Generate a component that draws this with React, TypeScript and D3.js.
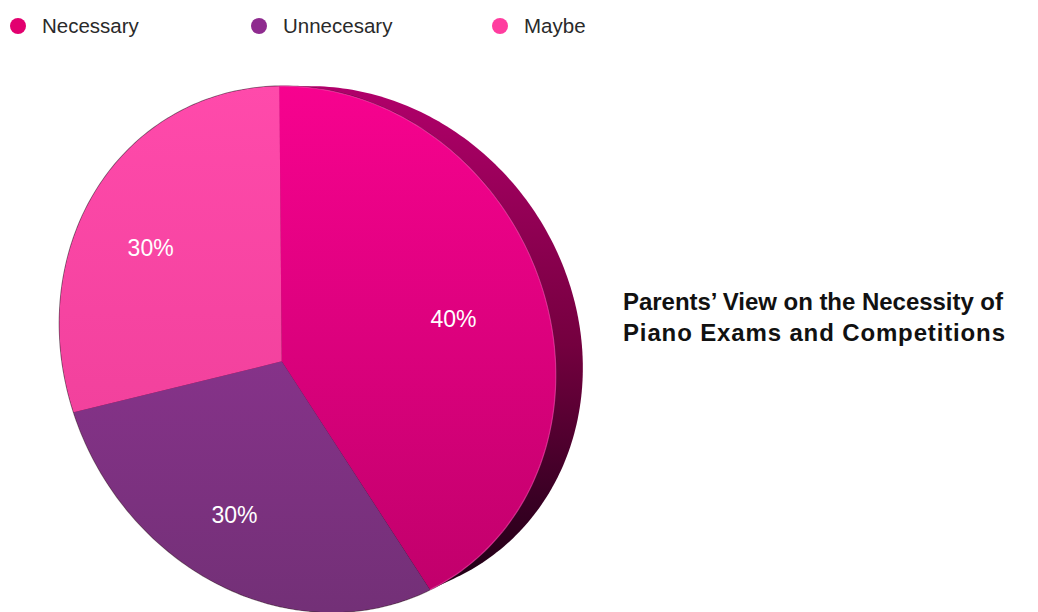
import React from "react";
import * as d3 from "d3";

const categories = ["Necessary", "Unnecesary", "Maybe"];
const values = [40, 30, 30];
const labels = ["40%", "30%", "30%"];
const titleLines = ["Parents’ View on the Necessity of", "Piano Exams and Competitions"];

const legendColors = ["#e2006f", "#8f2b8f", "#ff3d9f"];
const topColors = ["#f7028f", "#9a359d", "#ff4aab"];
const bottomColors = ["#bf006a", "#733077", "#ea3c94"];

const W = 1038;
const H = 612;

// projection calibration: unit-disk points -> screen (perspective tilted disc)
const deg = Math.PI / 180;
const calibUV: [number, number][] = [
  [0, 0],
  [0, -1],
  [Math.sin(144 * deg), -Math.cos(144 * deg)],
  [Math.sin(252 * deg), -Math.cos(252 * deg)],
];
const calibXY: number[] = [280.5, 361.5, 280, 86, 431.5, 591.5, 72, 413];
const extentTarget = { left: 61, right: 555, top: 86, bottom: 610 };

function solve(A: number[][], b: number[]): number[] {
  const n = b.length;
  const M = A.map((r, i) => [...r, b[i]]);
  for (let c = 0; c < n; c++) {
    let p = c;
    for (let r = c + 1; r < n; r++) if (Math.abs(M[r][c]) > Math.abs(M[p][c])) p = r;
    [M[c], M[p]] = [M[p], M[c]];
    for (let r = 0; r < n; r++) {
      if (r === c) continue;
      const f = M[r][c] / M[c][c];
      for (let k = c; k <= n; k++) M[r][k] -= f * M[c][k];
    }
  }
  return M.map((r, i) => r[n] / r[i]);
}

function homography(xy: number[]): number[] {
  const A: number[][] = [];
  const b: number[] = [];
  calibUV.forEach(([u, v], i) => {
    const x = xy[2 * i];
    const y = xy[2 * i + 1];
    A.push([u, v, 1, 0, 0, 0, -u * x, -v * x]);
    b.push(x);
    A.push([0, 0, 0, u, v, 1, -u * y, -v * y]);
    b.push(y);
  });
  return solve(A, b);
}

function applyH(h: number[], r: number, theta: number): [number, number] {
  const u = r * Math.sin(theta);
  const v = -r * Math.cos(theta);
  const w = h[6] * u + h[7] * v + 1;
  return [(h[0] * u + h[1] * v + h[2]) / w, (h[3] * u + h[4] * v + h[5]) / w];
}

function cost(xy: number[]): number {
  const h = homography(xy);
  let c = 0;
  for (let i = 0; i < 8; i++) c += (xy[i] - calibXY[i]) ** 2;
  let l = Infinity, rr = -Infinity, t = Infinity, bt = -Infinity;
  for (let i = 0; i < 180; i++) {
    const [x, y] = applyH(h, 1, i * 2 * deg);
    if (!isFinite(x) || !isFinite(y)) return 1e12;
    l = Math.min(l, x); rr = Math.max(rr, x); t = Math.min(t, y); bt = Math.max(bt, y);
  }
  c += (l - extentTarget.left) ** 2 + (rr - extentTarget.right) ** 2 + (t - extentTarget.top) ** 2 + (bt - extentTarget.bottom) ** 2;
  return c;
}

function nelderMead(f: (x: number[]) => number, x0: number[], step: number, iters: number): number[] {
  const n = x0.length;
  let simplex = [x0.slice()];
  for (let i = 0; i < n; i++) {
    const p = x0.slice();
    p[i] += step;
    simplex.push(p);
  }
  let vals = simplex.map(f);
  for (let it = 0; it < iters; it++) {
    const idx = d3.range(n + 1).sort((a, b) => vals[a] - vals[b]);
    simplex = idx.map((i) => simplex[i]);
    vals = idx.map((i) => vals[i]);
    const cen = d3.range(n).map((j) => d3.mean(simplex.slice(0, n), (p) => p[j])!);
    const worst = simplex[n];
    const refl = cen.map((c, j) => c + (c - worst[j]));
    const fr = f(refl);
    if (fr < vals[0]) {
      const exp = cen.map((c, j) => c + 2 * (c - worst[j]));
      const fe = f(exp);
      if (fe < fr) { simplex[n] = exp; vals[n] = fe; } else { simplex[n] = refl; vals[n] = fr; }
    } else if (fr < vals[n - 1]) {
      simplex[n] = refl; vals[n] = fr;
    } else {
      const con = cen.map((c, j) => c + 0.5 * (worst[j] - c));
      const fc = f(con);
      if (fc < vals[n]) { simplex[n] = con; vals[n] = fc; } else {
        for (let i = 1; i <= n; i++) {
          simplex[i] = simplex[i].map((v, j) => simplex[0][j] + 0.5 * (v - simplex[0][j]));
          vals[i] = f(simplex[i]);
        }
      }
    }
  }
  const best = d3.minIndex(vals);
  return simplex[best];
}

const Hm = homography(nelderMead(cost, calibXY, 4, 3000));
const project = (r: number, theta: number) => applyH(Hm, r, theta);

const pie = d3.pie<number>().sort(null).value((d) => d);
const arcs = pie(values);

function slicePath(a0: number, a1: number): string {
  const n = Math.max(8, Math.ceil(((a1 - a0) / (2 * Math.PI)) * 240));
  const pts: [number, number][] = [project(0, 0)];
  for (let i = 0; i <= n; i++) pts.push(project(1, a0 + ((a1 - a0) * i) / n));
  return d3.line()(pts)! + "Z";
}

const outline: [number, number][] = d3.range(0, 360).map((i) => project(1, i * deg));
// back face of the disc: shifted right, slightly foreshortened toward the top
const rimShiftX = 27;
const rimScaleY = 0.975;
const rimTop = d3.min(outline, (p) => p[1])!;
const rimHull = d3.polygonHull([
  ...outline,
  ...outline.map(([x, y]) => [x + rimShiftX, rimTop + (y - rimTop) * rimScaleY] as [number, number]),
])!;

function necessaryEdge(): string {
  const a = arcs[0];
  const pts: [number, number][] = [];
  for (let i = 0; i <= 120; i++) pts.push(project(1, a.startAngle + ((a.endAngle - a.startAngle) * i) / 120));
  return d3.line()(pts)!;
}

export default function App() {
  const legendX = d3.scalePoint<string>().domain(categories).range([18, 500]);
  const font = "'Liberation Sans', Arial, Helvetica, sans-serif";
  const titleWidths = [380, 382];
  return (
    <svg width={W} height={H} style={{ position: "absolute", left: 0, top: 0, background: "#fff" }}>
      <defs>
        {categories.map((c, i) => (
          <linearGradient key={c} id={`g${i}`} gradientUnits="userSpaceOnUse" x1={0} y1={86} x2={0} y2={610}>
            <stop offset="0" stopColor={topColors[i]} />
            <stop offset="1" stopColor={bottomColors[i]} />
          </linearGradient>
        ))}
        <linearGradient id="rim" gradientUnits="userSpaceOnUse" x1={0} y1={90} x2={0} y2={600}>
          <stop offset="0" stopColor="#b0006a" />
          <stop offset="0.5" stopColor="#74003f" />
          <stop offset="0.8" stopColor="#3a0024" />
          <stop offset="1" stopColor="#1c0012" />
        </linearGradient>
      </defs>

      {categories.map((c, i) => (
        <g key={c}>
          <circle cx={legendX(c)} cy={26} r={8} fill={legendColors[i]} />
          <text x={(legendX(c) as number) + 24} y={33} fontFamily={font} fontSize={20.5} fill="#2a2a2a">
            {c}
          </text>
        </g>
      ))}

      <path d={d3.line()(rimHull)! + "Z"} fill="url(#rim)" />
      <path d={d3.line()(outline)! + "Z"} fill="none" stroke="rgba(40,0,25,0.6)" strokeWidth={1.5} />
      {arcs.map((a, i) => (
        <path key={i} d={slicePath(a.startAngle, a.endAngle)} fill={`url(#g${i})`} />
      ))}
      <path d={necessaryEdge()} fill="none" stroke="#ff4cb4" strokeOpacity={0.6} strokeWidth={1.2} />

      {arcs.map((a, i) => {
        const [x, y] = project(0.68, (a.startAngle + a.endAngle) / 2);
        return (
          <text key={i} x={x} y={y} textAnchor="middle" dy="0.35em" fontFamily={font} fontSize={23} fill="#fff">
            {labels[i]}
          </text>
        );
      })}

      {titleLines.map((t, i) => (
        <text
          key={i}
          x={623}
          y={310 + i * 31}
          fontFamily={font}
          fontWeight="bold"
          fontSize={24}
          fill="#111"
          textLength={titleWidths[i]}
          lengthAdjust="spacing"
        >
          {t}
        </text>
      ))}
    </svg>
  );
}
